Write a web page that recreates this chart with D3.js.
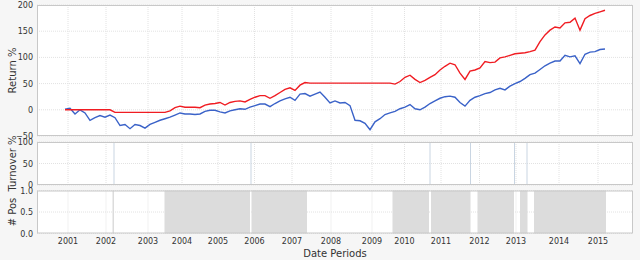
<!DOCTYPE html>
<html>
<head>
<meta charset="utf-8">
<script src="https://cdn.jsdelivr.net/npm/d3@7"></script>
<style>
body { margin: 0; background: #f6f6f6; }
svg { display: block; font-family: 'DejaVu Sans', sans-serif; }
</style>
</head>
<body>
<script>
// data: one value per date period
var benchmark = [1, 3, -8, 0, -6, -20, -15, -11, -14, -10,
	-15, -30, -28, -36, -28, -30, -35, -28, -24, -20,
	-17, -14, -10, -6, -8, -8, -9, -8, -3, -1,
	-1, -4, -6, -2, 0, 2, 1, 5, 8, 11,
	11, 6, 12, 17, 21, 24, 18, 30, 31, 26,
	30, 34, 24, 13, 17, 13, 14, 8, -20, -21,
	-26, -38, -23, -17, -9, -6, -3, 2, 5, 10,
	2, 0, 5, 12, 17, 22, 25, 26, 24, 14,
	7, 18, 24, 27, 31, 33, 38, 41, 38, 45,
	50, 54, 60, 67, 70, 77, 84, 89, 93, 93,
	104, 101, 103, 88, 106, 110, 111, 115, 116];
var strategy = [0, 0, 0, 0, 0, 0, 0, 0, 0, 0,
	-5, -5, -5, -5, -5, -5, -5, -5, -5, -5,
	-5, -2, 4, 7, 5, 5, 5, 4, 9, 11,
	12, 14, 9, 14, 16, 17, 15, 20, 24, 27,
	27, 22, 27, 33, 39, 42, 37, 47, 52, 51,
	51, 51, 51, 51, 51, 51, 51, 51, 51, 51,
	51, 51, 51, 51, 51, 51, 49, 54, 62, 66,
	58, 52, 56, 62, 67, 76, 83, 89, 86, 70,
	58, 74, 76, 80, 92, 90, 91, 99, 101, 104,
	107, 108, 109, 111, 114, 130, 143, 152, 158, 156,
	166, 167, 175, 152, 174, 180, 184, 187, 190];

// periods holding a position
var posStart = [9.5, 19.9, 37.3, 65.5, 73.2, 82.5, 91, 93.8];
var posEnd = [9.8, 37, 48.4, 72.8, 81.1, 89.8, 92.5, 108.2];
// periods with turnover
var turnoverAt = [9.8, 37.2, 73, 81.1, 89.9, 92.4];
var turnoverVal = [100, 100, 100, 100, 100, 100];

var tickPeriods = [0.6, 8.2, 16.6, 23.4, 30.6, 37.9, 45.4, 53.2, 61.4, 67.9, 75.2, 82.9, 90.2, 98.8, 106.6];
var tickLabels = ['2001', '2002', '2003', '2004', '2005', '2006', '2007', '2008', '2009', '2010', '2011', '2012', '2013', '2014', '2015'];

var width = 640, height = 260;
var left = 37, right = 633;

var svg = d3.select('body').append('svg')
	.attr('width', width)
	.attr('height', height);

var x = d3.scaleLinear().domain([-5.6, 113.6]).range([left, right]);

var panels = [
	{ label: 'Return %', y: d3.scaleLinear().domain([-50, 200]).range([136, 5]), ticks: [-50, 0, 50, 100, 150, 200], fmt: d3.format('d') },
	{ label: 'Turnover %', y: d3.scaleLinear().domain([0, 100]).range([185, 142]), ticks: [0, 50, 100], fmt: d3.format('d') },
	{ label: '# Pos', y: d3.scaleLinear().domain([0, 1]).range([233.5, 190.5]), ticks: [0, 0.5, 1], fmt: d3.format('.1f') }
];

panels.forEach(function (p) {
	var top = p.y.range()[1], bottom = p.y.range()[0];
	p.g = svg.append('g');
	p.g.append('rect')
		.attr('x', left).attr('y', top)
		.attr('width', right - left).attr('height', bottom - top)
		.attr('fill', '#fff');

	// grid
	p.g.selectAll('.vgrid').data(tickPeriods).enter().append('line')
		.attr('x1', function (d) { return x(d); })
		.attr('x2', function (d) { return x(d); })
		.attr('y1', top).attr('y2', bottom)
		.attr('stroke', '#e2e2e2').attr('stroke-dasharray', '1,1');
	p.g.selectAll('.hgrid').data(p.ticks).enter().append('line')
		.attr('x1', left).attr('x2', right)
		.attr('y1', function (d) { return p.y(d); })
		.attr('y2', function (d) { return p.y(d); })
		.attr('stroke', '#e2e2e2').attr('stroke-dasharray', '1,1');

	var yAxis = d3.axisLeft(p.y).tickValues(p.ticks).tickFormat(p.fmt).tickSize(0).tickPadding(4);
	var ga = svg.append('g')
		.attr('transform', 'translate(' + left + ',0)')
		.call(yAxis);
	ga.select('.domain').remove();
	ga.selectAll('text').attr('font-size', 8).attr('fill', '#333').attr('font-family', 'DejaVu Sans, sans-serif');

	svg.append('text')
		.attr('transform', 'translate(12,' + ((top + bottom) / 2) + ') rotate(-90)')
		.attr('text-anchor', 'middle')
		.attr('dy', '0.35em')
		.attr('font-size', 10)
		.attr('fill', '#333')
		.text(p.label);
});

// returns
var pr = panels[0];
svg.append('defs').append('clipPath').attr('id', 'clip')
	.append('rect').attr('x', left).attr('y', pr.y.range()[1])
	.attr('width', right - left).attr('height', pr.y.range()[0] - pr.y.range()[1]);

var line = d3.line()
	.x(function (d, i) { return x(i); })
	.y(function (d) { return pr.y(d); });

pr.g.append('path').datum(benchmark)
	.attr('d', line).attr('fill', 'none')
	.attr('stroke', '#3a62c8').attr('stroke-width', 1.4)
	.attr('clip-path', 'url(#clip)');
pr.g.append('path').datum(strategy)
	.attr('d', line).attr('fill', 'none')
	.attr('stroke', '#f01c22').attr('stroke-width', 1.4)
	.attr('clip-path', 'url(#clip)');

// turnover
var pt = panels[1];
pt.g.selectAll('.turn').data(turnoverAt).enter().append('line')
	.attr('x1', function (d) { return x(d); })
	.attr('x2', function (d) { return x(d); })
	.attr('y1', pt.y(0))
	.attr('y2', function (d, i) { return pt.y(turnoverVal[i]); })
	.attr('stroke', '#c9d5e2').attr('stroke-width', 1);

// positions
var pp = panels[2];
pp.g.selectAll('.pos').data(posStart).enter().append('rect')
	.attr('x', function (d) { return x(d); })
	.attr('width', function (d, i) { return x(posEnd[i]) - x(d); })
	.attr('y', pp.y(1))
	.attr('height', pp.y(0) - pp.y(1))
	.attr('fill', '#dcdcdc');

// frames on top
panels.forEach(function (p) {
	var top = p.y.range()[1], bottom = p.y.range()[0];
	svg.append('rect')
		.attr('x', left + 0.5).attr('y', top + 0.5)
		.attr('width', right - left - 1).attr('height', bottom - top - 1)
		.attr('fill', 'none').attr('stroke', '#c8c8c8');
});

// x axis
svg.selectAll('.xlab').data(tickPeriods).enter().append('text')
	.attr('x', function (d) { return x(d); })
	.attr('y', 244)
	.attr('text-anchor', 'middle')
	.attr('font-size', 8)
	.attr('fill', '#333')
	.text(function (d, i) { return tickLabels[i]; });

svg.append('text')
	.attr('x', (left + right) / 2)
	.attr('y', 257)
	.attr('text-anchor', 'middle')
	.attr('font-size', 10)
	.attr('fill', '#333')
	.text('Date Periods');
</script>
</body>
</html>
